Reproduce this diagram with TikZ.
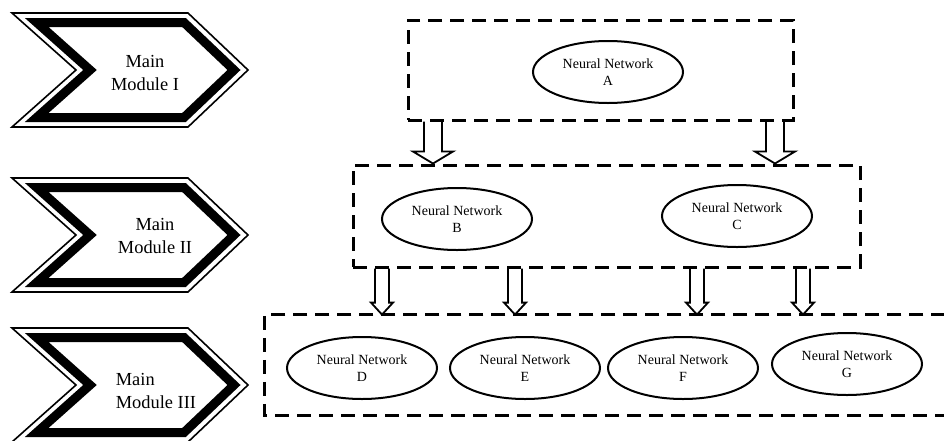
\documentclass[tikz,border=0pt]{standalone}
\usepackage{fontspec}
\setmainfont{Liberation Serif}
\usetikzlibrary{shapes.geometric}

\begin{document}
\begin{tikzpicture}[x=0.5pt,y=-0.5pt,
  level/.style={draw,dash pattern=on 7pt off 4pt,line width=1.5pt},
  net/.style={draw,ellipse,line width=1pt,minimum width=75pt,minimum height=31pt,
    inner sep=0pt,align=center,font=\fontsize{7}{8.5}\selectfont},
  modtext/.style={font=\fontsize{9.2}{11.5}\selectfont},
  hollow/.style 2 args={line width=0.9pt,line join=miter,
    to path={([xshift=-#1]\tikztostart) -- ([xshift=-#1,yshift=6pt]\tikztotarget)
      -- ([xshift=-#2,yshift=6pt]\tikztotarget) -- (\tikztotarget)
      -- ([xshift=#2,yshift=6pt]\tikztotarget) -- ([xshift=#1,yshift=6pt]\tikztotarget)
      -- ([xshift=#1]\tikztostart)}}]
  \useasboundingbox (0,0) rectangle (944,440);
  % module chevrons
  \foreach \t in {13,178,328}{
    \draw[line width=0.8pt,line join=miter] (12,\t) -- (188,\t) -- (248,\t+57) -- (188,\t+114) -- (12,\t+114) -- (76,\t+57) -- cycle;
    \draw[line width=4.5pt,line join=miter] (36.7,\t+9.5) -- (184,\t+9.5) -- (234,\t+57) -- (184,\t+104.5) -- (36.7,\t+104.5) -- (90,\t+57) -- cycle;
  }
  \node[modtext,align=center] (m1) at (145,73) {Main\\Module I};
  \node[modtext,align=center] (m2) at (155,236) {Main\\Module II};
  \node[modtext,align=left] (m3) at (156,391) {Main\\Module III};
  % levels
  \node[level,minimum width=192.5pt,minimum height=50pt] (row1) at (600.5,70) {};
  \node[level,minimum width=253.5pt,minimum height=51pt] (row2) at (606.5,216) {};
  \node[minimum width=340pt,minimum height=50pt] (row3) at (605,365) {};
  \draw[level] (row3.north east) -- (row3.north west) -- (row3.south west) -- (row3.south east);
  \node[net] (A) at (608,72) {Neural Network\\A};
  \node[net] (B) at (457,219) {Neural Network\\B};
  \node[net] (C) at (737,216) {Neural Network\\C};
  \node[net] (D) at (362,368) {Neural Network\\D};
  \node[net] (E) at (525,368) {Neural Network\\E};
  \node[net] (F) at (683,368) {Neural Network\\F};
  \node[net] (G) at (847,364) {Neural Network\\G};
  % arrows
  \foreach \x in {433,775}
    \draw[hollow={4.5pt}{10pt}] (\x,0 |- row1.south) to (\x,0 |- row2.north);
  \foreach \x in {382,515,697,803}
    \draw[hollow={3.5pt}{5.5pt}] (\x,0 |- row2.south) to (\x,0 |- row3.north);
\end{tikzpicture}
\end{document}
